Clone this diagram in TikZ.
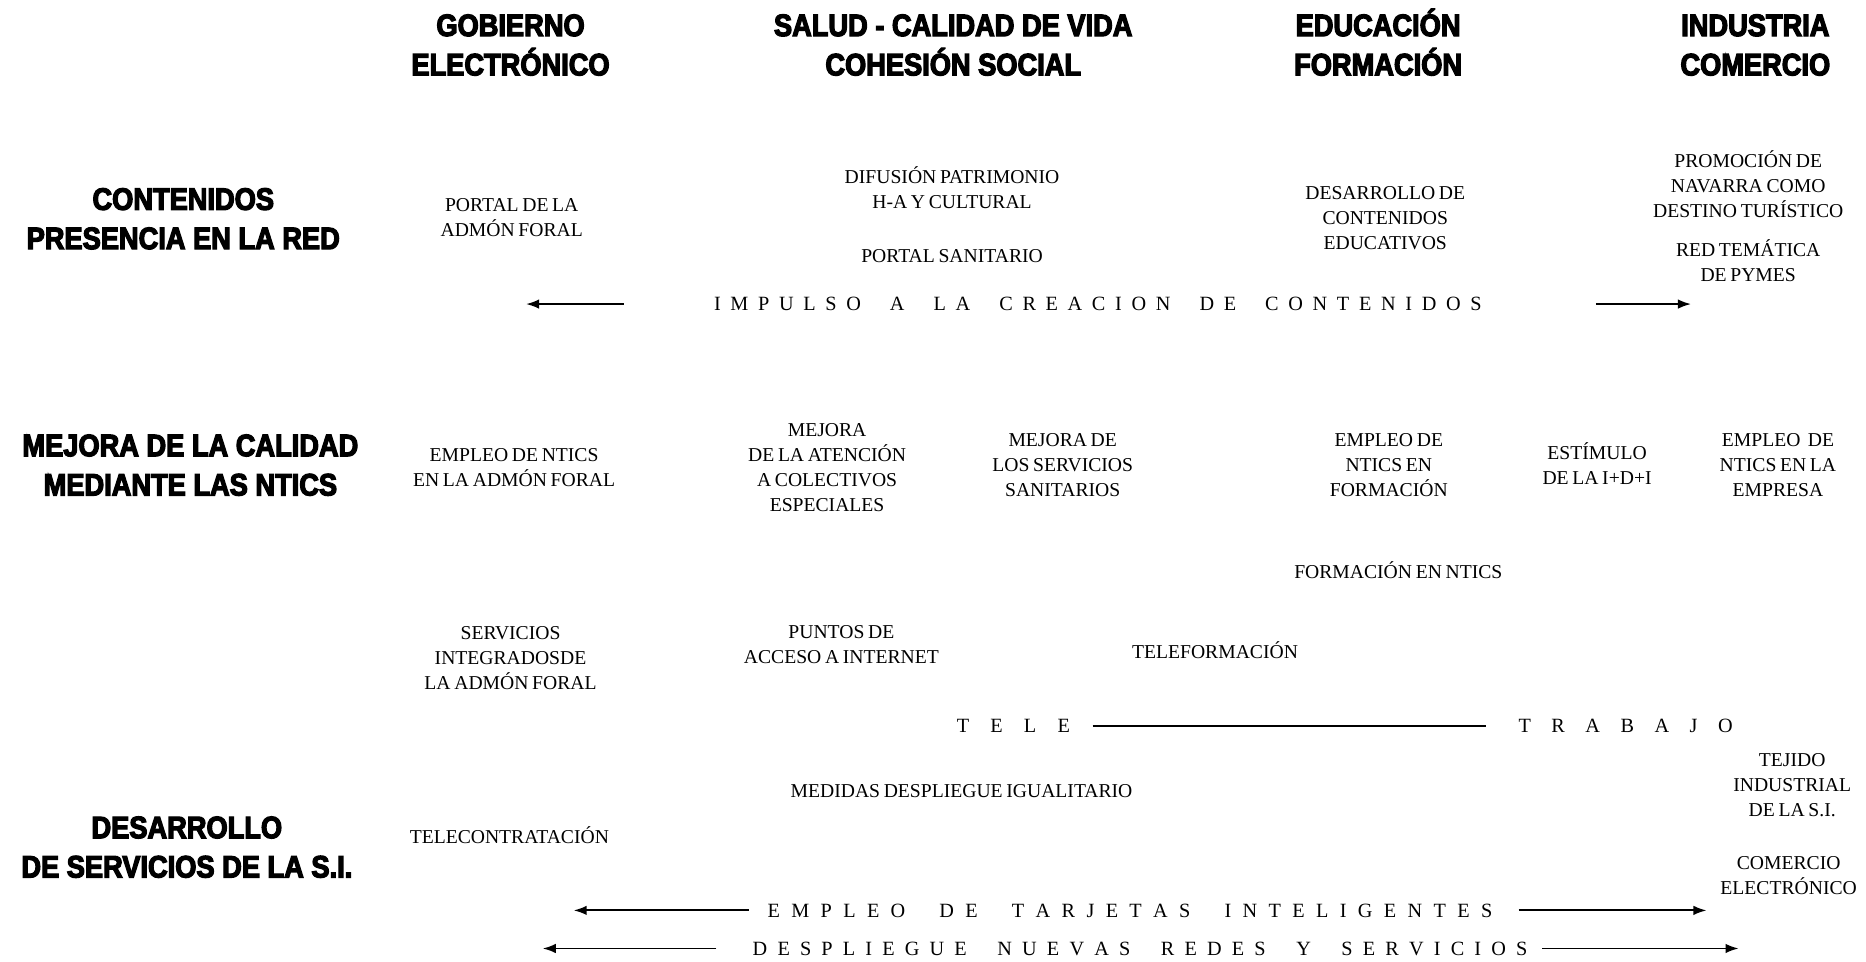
\documentclass[tikz,border=0pt]{standalone}
\usepackage{fontspec}
\setmainfont{Liberation Serif}[WordSpace=0.75]
\newfontfamily\hfont{Liberation Sans Bold}[FakeStretch=0.88,FakeBold=4]
\usetikzlibrary{arrows.meta}
\newcommand\spreadtxt[2]{\makebox[#1][s]{#2}}
\begin{document}
\begin{tikzpicture}[x=1pt,y=-1pt,
 hd/.style={font=\hfont\fontsize{26}{33}\selectfont, align=center, anchor=base, inner sep=0pt},
 tx/.style={font=\fontsize{16.5}{21}\selectfont, align=center, anchor=base, inner sep=0pt},
 sp/.style={font=\fontsize{17}{21}\selectfont, inner sep=0pt, text height=11.3pt, text depth=0pt, anchor=center},
 arr/.style={line width=1.6pt, -{Latex[length=11pt,width=8pt]}},
 ln/.style={line width=1.2pt}]
\useasboundingbox (0,0) rectangle (1568,808);
% column headings (base = baseline of last line)
\node[hd] (gob) at (429,63.3) {GOBIERNO\\ELECTRÓNICO};
\node[hd] (sal) at (801,63.3) {SALUD - CALIDAD DE VIDA\\COHESIÓN SOCIAL};
\node[hd] (edu) at (1158,63.3) {EDUCACIÓN\\FORMACIÓN};
\node[hd] (ind) at (1475,63.3) {INDUSTRIA\\COMERCIO};
% row headings
\node[hd] (r1) at (154,209.3) {CONTENIDOS\\PRESENCIA EN LA RED};
\node[hd] (r2) at (160,416.3) {MEJORA DE LA CALIDAD\\MEDIANTE LAS NTICS};
\node[hd] (r3) at (157,737.3) {DESARROLLO\\DE SERVICIOS DE LA S.I.};
% row 1 items
\node[tx] (portal) at (430,198.5) {PORTAL DE LA\\ADMÓN FORAL};
\node[tx] (difu) at (800,175.5) {DIFUSIÓN PATRIMONIO\\H-A Y CULTURAL};
\node[tx] (psan) at (800,220.5) {PORTAL SANITARIO};
\node[tx] (dcont) at (1164,209.5) {DESARROLLO DE\\CONTENIDOS\\EDUCATIVOS};
\node[tx] (promo) at (1469,182.5) {PROMOCIÓN DE\\NAVARRA COMO\\DESTINO TURÍSTICO};
\node[tx] (redt) at (1469,236.5) {RED TEMÁTICA\\DE PYMES};
\node[sp] (imp) at (922.5,255.5) {\spreadtxt{645pt}{I M P U L S O~~~A~~~L A~~~C R E A C I O N~~~D E~~~C O N T E N I D O S}};
\coordinate (impL1) at (524,255.5);
\coordinate (impL2) at (442,255.5);
\coordinate (impR1) at (1341,255.5);
\coordinate (impR2) at (1421,255.5);
\draw[arr] (impL1) -- (impL2);
\draw[arr] (impR1) -- (impR2);
% row 2 items
\node[tx] (empadm) at (432,408.5) {EMPLEO DE NTICS\\EN LA ADMÓN FORAL};
\node[tx] (mejat) at (695,429.5) {MEJORA\\DE LA ATENCIÓN\\A COLECTIVOS\\ESPECIALES};
\node[tx] (mejser) at (893,417.5) {MEJORA DE\\LOS SERVICIOS\\SANITARIOS};
\node[tx] (empfor) at (1167,417.5) {EMPLEO DE\\NTICS EN\\FORMACIÓN};
\node[tx] (estim) at (1342,407.5) {ESTÍMULO\\DE LA I+D+I};
\node[tx] (empemp) at (1494,417.5) {EMPLEO\ \ DE\\NTICS EN LA\\EMPRESA};
\node[tx] (forntic) at (1175,486.5) {FORMACIÓN EN NTICS};
\node[tx] (servint) at (429,579.5) {SERVICIOS\\INTEGRADOSDE\\LA ADMÓN FORAL};
\node[tx] (puntos) at (707,557.5) {PUNTOS DE\\ACCESO A INTERNET};
\node[tx] (telef) at (1021,553.5) {TELEFORMACIÓN};
\node[sp] (tele) at (851.5,610) {\spreadtxt{95pt}{T E L E}};
\node[sp] (trab) at (1366,610) {\spreadtxt{180pt}{T R A B A J O}};
\draw[ln, shorten <=19pt, shorten >=27pt] (tele.east) -- (trab.west);
% row 3 items
\node[tx] (tejido) at (1506,686.5) {TEJIDO\\INDUSTRIAL\\DE LA S.I.};
\node[tx] (medidas) at (808,670.5) {MEDIDAS DESPLIEGUE IGUALITARIO};
\node[tx] (telecon) at (428,708.5) {TELECONTRATACIÓN};
\node[tx] (comer) at (1503,751.5) {COMERCIO\\ELECTRÓNICO};
\node[sp] (tarj) at (949.5,765) {\spreadtxt{609pt}{E M P L E O~~~D E~~~T A R J E T A S~~~I N T E L I G E N T E S}};
\coordinate (tarL1) at (629,765);
\coordinate (tarL2) at (482,765);
\coordinate (tarR1) at (1276,765);
\coordinate (tarR2) at (1434,765);
\draw[arr] (tarL1) -- (tarL2);
\draw[arr] (tarR1) -- (tarR2);
\node[sp] (desp) at (958,797) {\spreadtxt{651pt}{D E S P L I E G U E~~~N U E V A S~~~R E D E S~~~Y~~~S E R V I C I O S}};
\coordinate (desL1) at (602,797);
\coordinate (desL2) at (456,797);
\coordinate (desR1) at (1296,797);
\coordinate (desR2) at (1461,797);
\draw[arr] (desL1) -- (desL2);
\draw[arr] (desR1) -- (desR2);
\end{tikzpicture}
\end{document}
